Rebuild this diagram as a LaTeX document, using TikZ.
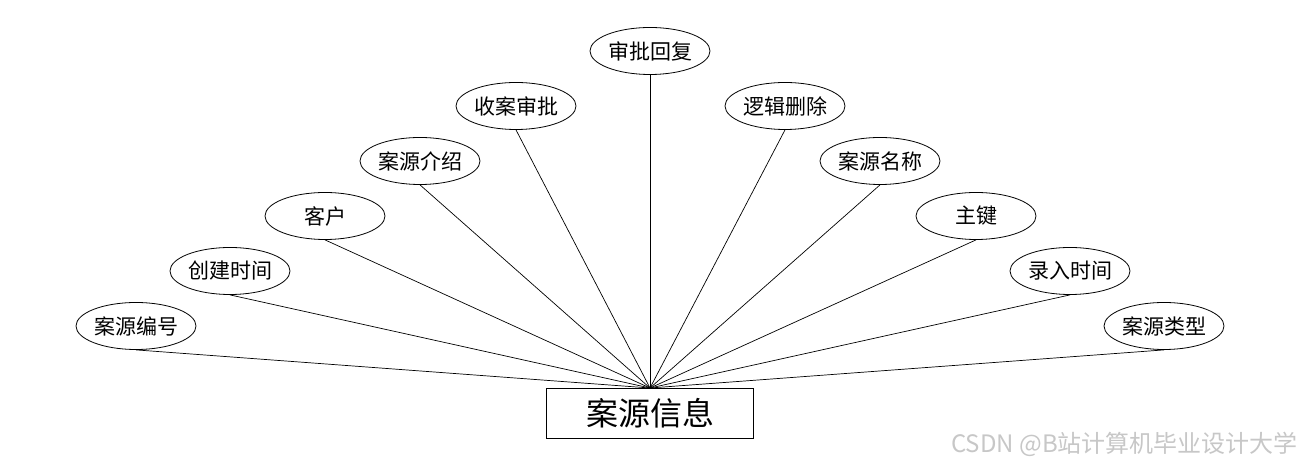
\documentclass[tikz,border=0pt]{standalone}
\usepackage{fontspec}
\newfontfamily\cjk{Noto Sans CJK SC}
\usetikzlibrary{shapes.geometric}
\begin{document}
\begin{tikzpicture}[x=1pt,y=1pt,
  attr/.style={draw,ellipse,minimum width=120pt,minimum height=47pt,inner sep=0pt,font=\cjk\fontsize{21}{21}\selectfont,line width=0.8pt},
  entity/.style={draw,rectangle,minimum width=207pt,minimum height=50pt,inner sep=0pt,font=\cjk\fontsize{32}{32}\selectfont,line width=0.8pt},
  link/.style={line width=0.7pt}]
\useasboundingbox (0,0) rectangle (1300,468);
\node[entity] (e) at (650,55) {案源信息};
\coordinate (hub) at (650,80);
\node[attr] (a1) at (650,417) {审批回复};
\node[attr] (a2) at (516,362) {收案审批};
\node[attr] (a3) at (785,362) {逻辑删除};
\node[attr] (a4) at (420,307) {案源介绍};
\node[attr] (a5) at (880,307) {案源名称};
\node[attr] (a6) at (325,252) {客户};
\node[attr] (a7) at (976,252) {主键};
\node[attr] (a8) at (230,197) {创建时间};
\node[attr] (a9) at (1070,197) {录入时间};
\node[attr] (a10) at (136,142) {案源编号};
\node[attr] (a11) at (1164,142) {案源类型};
\foreach \n in {a1,a2,a3,a4,a5,a6,a7,a8,a9,a10,a11} \draw[link] (hub) -- (\n.south);
\node[anchor=east,text=black!22,font=\cjk\fontsize{24}{24}\selectfont,inner sep=0pt] (wm) at (1298,24) {CSDN @B站计算机毕业设计大学};
\end{tikzpicture}
\end{document}
